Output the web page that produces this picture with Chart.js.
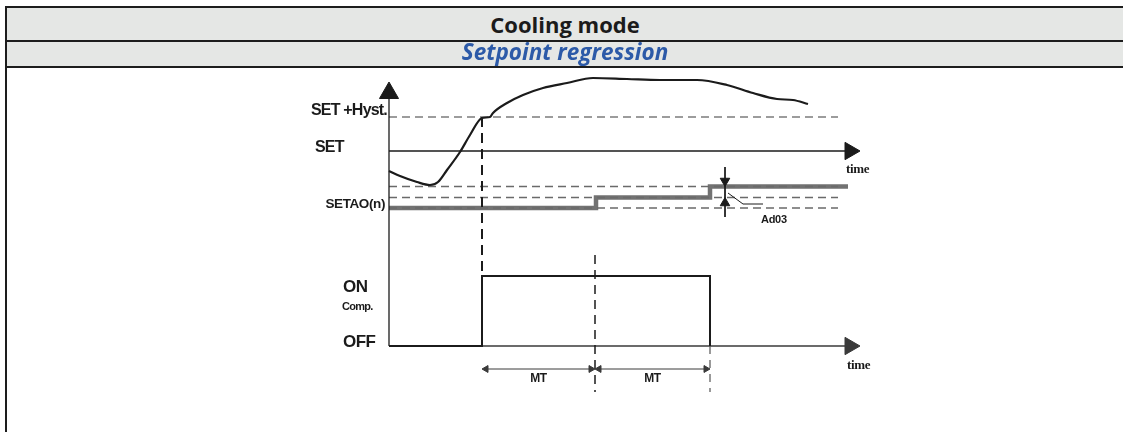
<!DOCTYPE html>
<html>
<head>
<meta charset="utf-8">
<title>Cooling mode – Setpoint regression</title>
<script src="https://cdn.jsdelivr.net/npm/chart.js@4.4.1/dist/chart.umd.min.js"></script>
<style>
  html, body { margin: 0; padding: 0; background: #fff; }
  body { width: 1123px; height: 432px; position: relative; overflow: hidden; }
  #diagram { position: absolute; left: 0; top: 0; }
  .rule { position: absolute; background: #1d1d1d; }
  .band { position: absolute; left: 7px; right: 0; background: #e5e7e5;
          display: flex; align-items: center; justify-content: center;
          font-family: "Open Sans", "Noto Sans", sans-serif; font-weight: 700; }
  #band1 { top: 8px; height: 32px; font-size: 22px; color: #1b1b1b; }
  #band2 { top: 42px; height: 24px; font-size: 22.5px; color: #2c5aa8; font-style: italic;
           padding-bottom: 5px; box-sizing: border-box; }
</style>
</head>
<body>
<canvas id="diagram" width="1123" height="432"></canvas>
<div class="band" id="band1">Cooling mode</div>
<div class="band" id="band2">Setpoint regression</div>
<div class="rule" style="left:5px;top:6px;width:1118px;height:2px"></div>
<div class="rule" style="left:5px;top:40px;width:1118px;height:2px"></div>
<div class="rule" style="left:5px;top:66px;width:1118px;height:2px"></div>
<div class="rule" style="left:5px;top:6px;width:2px;height:426px"></div>
<script>
// ---- time axis (arbitrary time units) ----
const timeMax = 471;          // end of the time arrows
const timeArrow = 461;        // where the arrow heads sit
const guideEnd = 449;         // end of the dashed reference levels
const compOnTime = 93;        // compressor switches on (temperature reaches SET+Hyst)
const mtTime = 206;           // first minimum-time interval elapses
const compOffTime = 321;      // compressor switches off / second MT elapses
const ad03Time = 336;         // position of the Ad03 dimension

// ---- level axis (arbitrary units) ----
const levelMax = 330;
const setHystLevel = 283;
const setLevel = 249;
const stageLevels = [192, 202.5, 213.5];   // SETAO(n) and the following regression steps
const onLevel = 124;
const offLevel = 54;
const mtLevel = 31;
const guideBottom = 8;

// ---- room temperature trend ----
const tempTime  = [0, 11, 28, 41, 49, 58, 71, 81, 93, 101, 104, 118, 134, 154, 178, 204, 238, 271, 308, 338, 364, 388, 404, 419];
const tempValue = [229, 224, 218, 215, 218, 230, 248, 265, 282, 283, 287, 297, 305, 312, 317, 322, 321, 320, 320, 315, 307, 301, 300, 296];

// ---- regression setpoint steps (time of each step) ----
const stageTimes = [0, 207, 321, 459];

// ---- compressor state ----
const compTimes  = [0, compOnTime, compOnTime, compOffTime, compOffTime];
const compLevels = [offLevel, offLevel, onLevel, onLevel, offLevel];

// ---- text ----
const labelSetHyst = "SET +Hyst.";
const labelSet = "SET";
const labelSetao = "SETAO(n)";
const labelOn = "ON";
const labelComp = "Comp.";
const labelOff = "OFF";
const labelTime = "time";
const labelMt = "MT";
const labelAd03 = "Ad03";

const pts = (xs, ys) => xs.map((x, i) => ({ x, y: ys[i] }));
const base = { pointRadius: 0, fill: false, clip: false, tension: 0, borderCapStyle: 'butt' };
const ink = '#1b1b1b';
const grey = '#7c7c7c';

// stepped SETAO line
const setaoPts = [];
for (let i = 0; i < stageLevels.length; i++) {
  setaoPts.push({ x: stageTimes[i], y: stageLevels[i] });
  setaoPts.push({ x: stageTimes[i + 1], y: stageLevels[i] });
}

function arrowLine(x0, y0, x1, y1, r, rot, opts) {
  return Object.assign({}, base, {
    data: [{ x: x0, y: y0 }, { x: x1, y: y1 }],
    pointStyle: 'triangle',
    pointRadius: [0, r],
    pointRotation: [0, rot],
    pointBackgroundColor: opts.borderColor,
    pointBorderColor: opts.borderColor,
    pointBorderWidth: 1
  }, opts);
}

function dblArrow(x0, x1, y, r, color) {
  return Object.assign({}, base, {
    data: [{ x: x0 + r, y }, { x: x1 - r, y }],
    pointStyle: 'triangle',
    pointRadius: [r, r],
    pointRotation: [270, 90],
    pointBackgroundColor: color,
    pointBorderColor: color,
    pointBorderWidth: 1,
    borderColor: color,
    borderWidth: 1
  });
}

const datasets = [
  // temperature trend
  Object.assign({}, base, { data: pts(tempTime, tempValue), borderColor: ink, borderWidth: 2.2,
    cubicInterpolationMode: 'monotone', order: 1 }),
  // SET+Hyst guide
  Object.assign({}, base, { data: [{ x: 0, y: setHystLevel }, { x: guideEnd, y: setHystLevel }],
    borderColor: grey, borderWidth: 1.5, borderDash: [8, 5], order: 3 }),
  // regression step guides
  ...stageLevels.map(l => Object.assign({}, base, { data: [{ x: 0, y: l }, { x: guideEnd, y: l }],
    borderColor: '#6a6a6a', borderWidth: 1.3, borderDash: [8, 5], order: 3 })),
  // SETAO(n) regression setpoint
  Object.assign({}, base, { data: setaoPts, borderColor: '#727272', borderWidth: 4.5,
    borderJoinStyle: 'miter', order: 4 }),
  // SET line / time axis
  arrowLine(0, setLevel, timeArrow, setLevel, 10, 90, { borderColor: ink, borderWidth: 1.3, order: 2 }),
  // vertical level axis
  arrowLine(0, offLevel, 0, 307, 11, 0, { borderColor: ink, borderWidth: 1.3, order: 2 }),
  // compressor time axis
  arrowLine(0, offLevel, timeArrow, offLevel, 10, 90, { borderColor: '#3a3a3a', borderWidth: 1.3, order: 2 }),
  // compressor state
  Object.assign({}, base, { data: pts(compTimes, compLevels), borderColor: ink, borderWidth: 2,
    borderJoinStyle: 'miter', order: 1 }),
  // switch-on marker
  Object.assign({}, base, { data: [{ x: compOnTime, y: setHystLevel }, { x: compOnTime, y: onLevel }],
    borderColor: ink, borderWidth: 2, borderDash: [10, 6], order: 1 }),
  // end of first MT
  Object.assign({}, base, { data: [{ x: mtTime, y: 145 }, { x: mtTime, y: guideBottom }],
    borderColor: ink, borderWidth: 1.5, borderDash: [9, 6], order: 1 }),
  // end of second MT
  Object.assign({}, base, { data: [{ x: compOffTime, y: offLevel }, { x: compOffTime, y: guideBottom }],
    borderColor: '#555', borderWidth: 1.2, borderDash: [8, 6], order: 1 }),
  // MT dimensions
  dblArrow(compOnTime, mtTime, mtLevel, 4, '#3a3a3a'),
  dblArrow(mtTime, compOffTime, mtLevel, 4, '#3a3a3a'),
  // Ad03 dimension
  Object.assign({}, base, {
    data: [{ x: ad03Time, y: 233 }, { x: ad03Time, y: stageLevels[2] + 5.5 },
           { x: ad03Time, y: stageLevels[1] - 5.5 }, { x: ad03Time, y: 183 }],
    pointStyle: 'triangle', pointRadius: [0, 5.5, 5.5, 0], pointRotation: [0, 180, 0, 0],
    pointBackgroundColor: ink, pointBorderColor: ink, pointBorderWidth: 1,
    borderColor: ink, borderWidth: 1, order: 0 }),
  // Ad03 leader
  Object.assign({}, base, { data: [{ x: 339, y: 207 }, { x: 354, y: 196 }, { x: 374, y: 196 }],
    borderColor: ink, borderWidth: 1, order: 0 })
];

// labels drawn next to the levels they name
const diagramLabels = {
  id: 'diagramLabels',
  afterDraw(chart) {
    const { ctx, chartArea: a, scales: { x, y } } = chart;
    const put = (txt, px, py, size, align, spacing, family) => {
      ctx.save();
      ctx.font = `bold ${size}px ${family || '"Liberation Sans", Arial, sans-serif'}`;
      ctx.letterSpacing = (spacing || 0) + 'px';
      ctx.fillStyle = ink;
      ctx.textAlign = align;
      ctx.textBaseline = 'alphabetic';
      ctx.fillText(txt, px, py);
      ctx.restore();
    };
    const serif = '"Liberation Serif", "Times New Roman", serif';
    put(labelSetHyst, a.left - 2, y.getPixelForValue(setHystLevel) - 2, 16, 'right', -0.8);
    put(labelSet, a.left - 74, y.getPixelForValue(setLevel) + 1, 16, 'left', -0.8);
    put(labelSetao, a.left - 4, y.getPixelForValue(stageLevels[0]) + 0, 13.5, 'right', -0.4);
    put(labelOn, a.left - 46, y.getPixelForValue(onLevel) + 16, 17, 'left', -0.5);
    put(labelComp, a.left - 47, y.getPixelForValue(onLevel) + 34, 11, 'left', -0.7);
    put(labelOff, a.left - 46, y.getPixelForValue(offLevel) + 1, 17, 'left', -0.5);
    put(labelTime, x.getPixelForValue(timeMax) - 14, y.getPixelForValue(setLevel) + 22, 13, 'left', -0.3, serif);
    put(labelTime, x.getPixelForValue(timeMax) - 13, y.getPixelForValue(offLevel) + 23, 13, 'left', -0.3, serif);
    put(labelMt, x.getPixelForValue((compOnTime + mtTime) / 2), y.getPixelForValue(mtLevel) + 13, 12, 'center', -0.3);
    put(labelMt, x.getPixelForValue((mtTime + compOffTime) / 2), y.getPixelForValue(mtLevel) + 13, 12, 'center', -0.3);
    put(labelAd03, x.getPixelForValue(374) - 2, y.getPixelForValue(177), 11, 'left', -0.3);
  }
};

new Chart(document.getElementById('diagram'), {
  type: 'line',
  data: { datasets },
  options: {
    responsive: false,
    animation: false,
    devicePixelRatio: 1,
    events: [],
    layout: { padding: { left: 389, right: 1123 - 389 - timeMax, top: 70, bottom: 32 } },
    plugins: { legend: { display: false }, tooltip: { enabled: false }, title: { display: false } },
    scales: {
      x: { type: 'linear', min: 0, max: timeMax, display: false },
      y: { type: 'linear', min: 0, max: levelMax, display: false }
    }
  },
  plugins: [diagramLabels]
});
</script>
</body>
</html>
